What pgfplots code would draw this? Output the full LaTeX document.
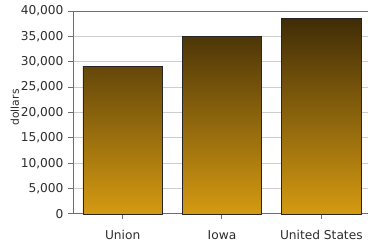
\documentclass[border=0pt]{standalone}
\usepackage{pgfplots}
\pgfplotsset{compat=1.18}
\usepackage{fontspec}
\setmainfont{DejaVu Sans}
\definecolor{bardark}{RGB}{58,40,6}
\definecolor{bargold}{RGB}{213,154,18}
\definecolor{axgray}{RGB}{110,110,110}
\definecolor{gridgray}{RGB}{205,205,205}
\definecolor{txt}{RGB}{45,45,45}
\begin{document}
\begin{tikzpicture}
\begin{axis}[
  scale only axis, width=295bp, height=203bp,
  xmin=-0.5, xmax=2.47, ymin=0, ymax=40000,
  axis x line*=bottom, axis y line*=left,
  axis line style={-, axgray, line width=1bp},
  xtick={0,1,2}, xticklabels={Union,Iowa,United States},
  ytick={0,5000,...,40000},
  scaled y ticks=false,
  /pgf/number format/1000 sep={,},
  /pgf/number format/assume math mode=true,
  tick align=outside, major tick length=5bp,
  tick style={axgray, line width=1bp},
  ymajorgrids, grid style={gridgray, line width=1bp},
  extra y ticks={40000}, extra y tick labels={},
  extra y tick style={grid style={axgray, line width=1bp}},
  tick label style={font=\fontsize{12.2bp}{14bp}\selectfont, text=txt},
  yticklabel style={xshift=-1bp},
  xticklabel style={yshift=-8bp},
  ylabel={dollars},
  every axis y label/.style={at={(rel axis cs:-0.197,0.525)}, anchor=center, rotate=90, font=\fontsize{10.8bp}{12bp}\selectfont, text=txt},
  clip=false,
]
\addplot[ybar, bar width=0.8, bar shift=0pt, draw=black!85, line width=0.8bp,
  top color=bardark!72.5!bargold, bottom color=bargold] coordinates {(0,29000)};
\addplot[ybar, bar width=0.8, bar shift=0pt, draw=black!85, line width=0.8bp,
  top color=bardark!87.25!bargold, bottom color=bargold] coordinates {(1,34900)};
\addplot[ybar, bar width=0.8, bar shift=0pt, draw=black!85, line width=0.8bp,
  top color=bardark!96.5!bargold, bottom color=bargold] coordinates {(2,38600)};
\coordinate (bbSW) at (rel axis cs:-0.2475,-0.1429);
\coordinate (bbNE) at (rel axis cs:1,1.0542);
\end{axis}
\pgfresetboundingbox
\path[use as bounding box] (bbSW) rectangle (bbNE);
\end{tikzpicture}
\end{document}
